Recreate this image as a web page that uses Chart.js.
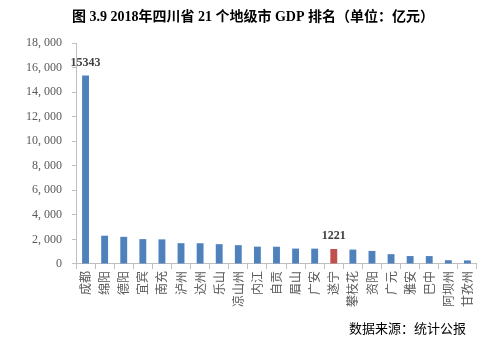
<!DOCTYPE html>
<html>
<head>
<meta charset="utf-8">
<script src="https://cdn.jsdelivr.net/npm/chart.js@4.4.1/dist/chart.umd.min.js"></script>
<style>
  html,body{margin:0;padding:0;background:#fff;}
  #wrap{width:484px;height:343px;position:relative;}
</style>
</head>
<body>
<div id="wrap"><canvas id="c"></canvas></div>
<script>
// 2018 四川省 21 个地级市 GDP（亿元）
const cities = ['成都','绵阳','德阳','宜宾','南充','泸州','达州','乐山','凉山州','内江','自贡',
  '眉山','广安','遂宁','攀枝花','资阳','广元','雅安','巴中','阿坝州','甘孜州'];
const gdp = [15343, 2304, 2214, 2026, 2006, 1695, 1690, 1615, 1533, 1412, 1407,
  1256, 1250, 1221, 1174, 1067, 802, 646, 646, 307, 291];
const labelled = ['成都','遂宁'];
const highlight = '遂宁';
const yTicks = [0,2000,4000,6000,8000,10000,12000,14000,16000,18000];
const titleText = '图 3.9 2018年四川省 21 个地级市 GDP 排名（单位：亿元）';
const sourceText = '数据来源：统计公报';

const blue = '#4f81bd', red = '#c0504d', axis = '#bfbfbf', txt = '#595959';
const serif = "'Liberation Serif','DejaVu Serif','Noto Sans CJK SC',serif";
const cjk = "'Noto Sans CJK SC','Noto Sans',sans-serif";

const fmt = v => v >= 1000 ? Math.floor(v/1000)+', '+String(v%1000).padStart(3,'0') : String(v);

// title, source note and value labels drawn on the canvas
const extras = {
  id:'extras',
  afterDraw(chart){
    const ctx = chart.ctx, meta = chart.getDatasetMeta(0);
    ctx.save();
    ctx.fillStyle = '#000';
    ctx.textBaseline = 'middle';
    ctx.font = "bold 14px " + serif;
    ctx.textAlign = 'center';
    ctx.fillText(titleText, 253, 17);
    ctx.font = "13px " + cjk;
    ctx.textAlign = 'right';
    ctx.fillText(sourceText, 466, 328);

    ctx.font = "bold 12px " + serif;
    ctx.fillStyle = '#404040';
    ctx.textAlign = 'center';
    ctx.textBaseline = 'bottom';
    cities.forEach((c,i)=>{
      if(!labelled.includes(c)) return;
      const el = meta.data[i];
      ctx.fillText(String(gdp[i]), el.x, el.y - 7);
    });
    ctx.restore();
  }
};

new Chart(document.getElementById('c'), {
  type:'bar',
  data:{
    labels: cities,
    datasets:[{
      data: gdp,
      backgroundColor: cities.map(c => c===highlight ? red : blue),
      barPercentage:0.72, categoryPercentage:0.5
    }]
  },
  options:{
    responsive:true, maintainAspectRatio:false, animation:false,
    layout:{ padding:{ left:16, right:7, top:43, bottom:34 } },
    plugins:{ legend:{display:false}, tooltip:{enabled:false} },
    scales:{
      x:{
        grid:{ display:true, drawOnChartArea:false, drawTicks:true, tickLength:5, color:axis },
        border:{ color:axis },
        ticks:{ color:txt, font:{family:cjk, size:12}, maxRotation:90, minRotation:90, autoSkip:false, padding:2 }
      },
      y:{
        min:0, max:18000,
        afterBuildTicks(s){ s.ticks = yTicks.map(v=>({value:v})); },
        grid:{ display:true, drawOnChartArea:false, drawTicks:true, tickLength:4, color:axis },
        border:{ color:axis },
        ticks:{ color:txt, font:{family:serif, size:12}, padding:10, callback:v=>fmt(v) }
      }
    }
  },
  plugins:[extras]
});
</script>
</body>
</html>
